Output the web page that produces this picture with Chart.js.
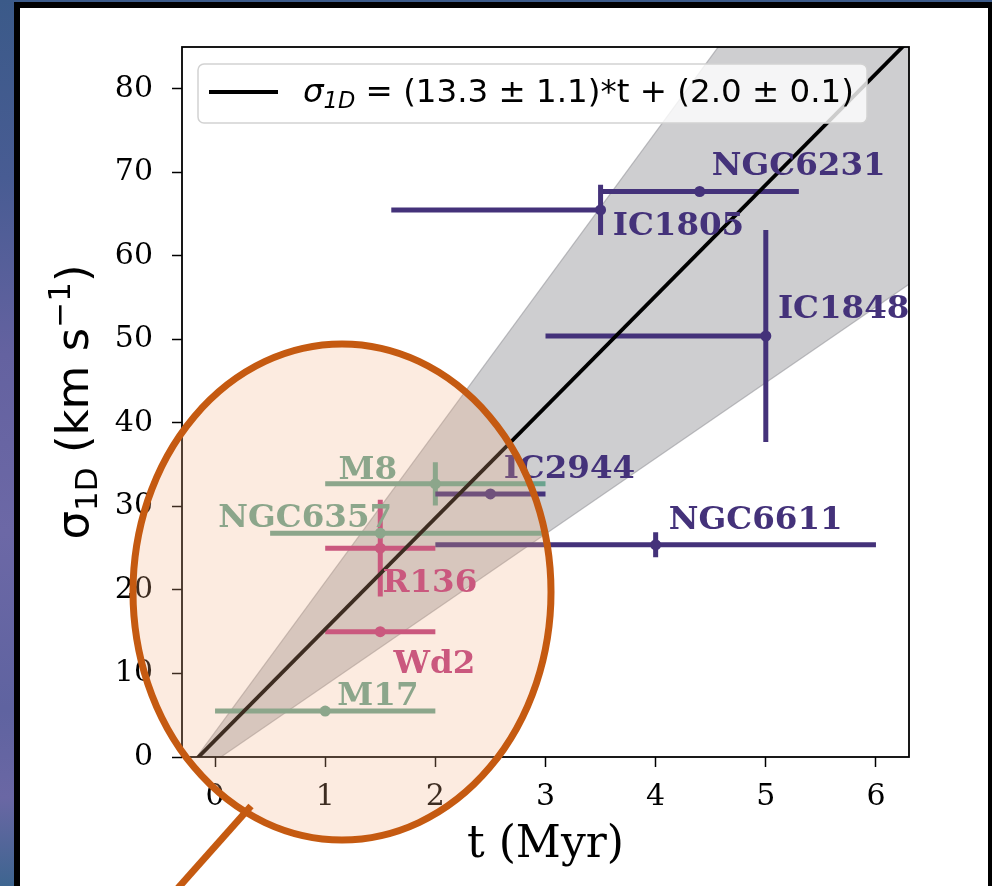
<!DOCTYPE html>
<html>
<head>
<meta charset="utf-8">
<script src="https://cdn.jsdelivr.net/npm/chart.js@4.4.1/dist/chart.umd.min.js"></script>
<style>
  html, body { margin: 0; padding: 0; background: #4a5d95; }
  #wrap { width: 992px; height: 886px; position: relative; }
  canvas { display: block; }
</style>
</head>
<body>
<div id="wrap"><canvas id="chart" width="992" height="886"></canvas></div>
<script>
// ===============================
// Data
// ===============================
const clusterNames = ['NGC6231', 'IC1805', 'IC1848', 'IC2944', 'NGC6611', 'M8', 'NGC6357', 'R136', 'Wd2', 'M17'];
const clusterGroup = [0, 0, 0, 0, 0, 1, 1, 2, 2, 1];
const ageMyr       = [4.4, 3.5, 5.0, 2.5, 4.0, 2.0, 1.5, 1.5, 1.5, 1.0];
const sigma1D      = [67.7, 65.5, 50.4, 31.5, 25.4, 32.7, 26.8, 25.0, 15.0, 5.5];
const ageErrLow    = [0.9, 1.9, 2.0, 0.5, 2.0, 1.0, 1.0, 0.5, 0.5, 1.0];
const ageErrHigh   = [0.9, 0.0, 0.0, 0.5, 2.0, 1.0, 1.5, 0.5, 0.5, 1.0];
const sigmaErr     = [0.0, 3.0, 12.7, 0.0, 1.5, 2.6, 0.0, 5.8, 0.0, 0.0];

// where each cluster name is written (data units, left/baseline anchored)
const labelAge   = [4.51, 3.61, 5.11, 2.62, 4.12, 1.12, 0.03, 1.52, 1.62, 1.11];
const labelSigma = [69.7, 62.5, 52.5, 33.4, 27.3, 33.3, 27.5, 19.8, 10.1, 6.2];

// linear fit and its uncertainty band
const fitSlope = 13.3;
const fitIntercept = 2.0;
const bandAge  = [-0.3, 6.3];
const bandLow  = [-3.2, 56.6];
const bandHigh = [-2.4, 116.1];

const xTicks = [0, 1, 2, 3, 4, 5, 6];
const yTicks = [0, 10, 20, 30, 40, 50, 60, 70, 80];

// ===============================
// Styles
// ===============================
const groupColors = ['#44327a', '#6aa38e', '#bc3b7c'];
const labelFont = 'bold 32.5px "DejaVu Serif"';

// ===============================
// Datasets
// ===============================
const datasets = [
  {
    type: 'line',
    data: bandAge.map((t, i) => ({ x: t, y: bandHigh[i] })),
    borderColor: 'rgba(150,150,155,0.6)',
    borderWidth: 1.2,
    backgroundColor: 'rgba(125,125,132,0.38)',
    fill: '+1',
    pointRadius: 0,
    clip: 0,
    order: 10
  },
  {
    type: 'line',
    data: bandAge.map((t, i) => ({ x: t, y: bandLow[i] })),
    borderColor: 'rgba(150,150,155,0.6)',
    borderWidth: 1.2,
    fill: false,
    pointRadius: 0,
    clip: 0,
    order: 9
  },
  {
    type: 'line',
    data: bandAge.map(t => ({ x: t, y: fitSlope * t + fitIntercept })),
    borderColor: '#000',
    borderWidth: 3.8,
    fill: false,
    pointRadius: 0,
    clip: 0,
    order: 1
  }
];

groupColors.forEach((color, g) => {
  const idx = clusterNames.map((_, i) => i).filter(i => clusterGroup[i] === g);
  datasets.push({
    type: 'scatter',
    data: idx.map(i => ({ x: ageMyr[i], y: sigma1D[i] })),
    clusterIdx: idx,
    backgroundColor: color,
    borderColor: color,
    pointRadius: 5.5,
    pointBorderWidth: 0,
    order: 5
  });
});

// ===============================
// Plugins
// ===============================
const pageBackground = {
  id: 'pageBackground',
  beforeDraw(chart) {
    const ctx = chart.ctx;
    ctx.save();
    const g = ctx.createLinearGradient(0, 0, 0, 886);
    g.addColorStop(0.0, '#3b5a89');
    g.addColorStop(0.2, '#485c93');
    g.addColorStop(0.4, '#6462a0');
    g.addColorStop(0.6, '#6c68a6');
    g.addColorStop(0.8, '#5f63a0');
    g.addColorStop(0.9, '#6a67a4');
    g.addColorStop(1.0, '#3e6590');
    ctx.fillStyle = g;
    ctx.fillRect(0, 0, 992, 886);
    ctx.fillStyle = '#000';
    ctx.fillRect(14, 2, 978, 884);
    ctx.fillStyle = '#fff';
    ctx.fillRect(20, 8, 968, 878);
    ctx.restore();
  }
};

const errorBars = {
  id: 'errorBars',
  beforeDatasetDraw(chart, args) {
    const ds = chart.data.datasets[args.index];
    if (!ds.clusterIdx) return;
    const { ctx, scales: { x, y } } = chart;
    ctx.save();
    ctx.strokeStyle = ds.borderColor;
    ctx.lineWidth = 5;
    ds.clusterIdx.forEach(i => {
      const px = x.getPixelForValue(ageMyr[i]);
      const py = y.getPixelForValue(sigma1D[i]);
      ctx.beginPath();
      ctx.moveTo(x.getPixelForValue(ageMyr[i] - ageErrLow[i]), py);
      ctx.lineTo(x.getPixelForValue(ageMyr[i] + ageErrHigh[i]), py);
      if (sigmaErr[i] > 0) {
        ctx.moveTo(px, y.getPixelForValue(sigma1D[i] - sigmaErr[i]));
        ctx.lineTo(px, y.getPixelForValue(sigma1D[i] + sigmaErr[i]));
      }
      ctx.stroke();
    });
    ctx.restore();
  }
};

const clusterLabels = {
  id: 'clusterLabels',
  afterDatasetsDraw(chart) {
    const { ctx, scales: { x, y } } = chart;
    ctx.save();
    ctx.font = labelFont;
    ctx.textAlign = 'left';
    ctx.textBaseline = 'alphabetic';
    clusterNames.forEach((name, i) => {
      ctx.fillStyle = groupColors[clusterGroup[i]];
      ctx.fillText(name, x.getPixelForValue(labelAge[i]), y.getPixelForValue(labelSigma[i]));
    });
    ctx.restore();
  }
};

// draws a run of [text, font, baselineShift] pieces starting at (x, y)
function drawRuns(ctx, runs, x, y) {
  runs.forEach(([text, font, dy]) => {
    ctx.font = font;
    ctx.fillText(text, x, y + dy);
    x += ctx.measureText(text).width;
  });
}
function runsWidth(ctx, runs) {
  return runs.reduce((w, [text, font]) => { ctx.font = font; return w + ctx.measureText(text).width; }, 0);
}

const frameAndText = {
  id: 'frameAndText',
  afterDraw(chart) {
    const { ctx, chartArea: a } = chart;
    ctx.save();

    // axes spines
    ctx.strokeStyle = '#000';
    ctx.lineWidth = 1.8;
    ctx.strokeRect(a.left, a.top, a.right - a.left, a.bottom - a.top);

    // legend
    ctx.beginPath();
    ctx.roundRect(198, 64, 669, 59, 6);
    ctx.fillStyle = 'rgba(255,255,255,0.8)';
    ctx.fill();
    ctx.strokeStyle = '#d2d2d2';
    ctx.lineWidth = 1.5;
    ctx.stroke();
    ctx.beginPath();
    ctx.moveTo(209, 92);
    ctx.lineTo(278, 92);
    ctx.strokeStyle = '#000';
    ctx.lineWidth = 3.8;
    ctx.stroke();
    ctx.fillStyle = '#000';
    ctx.textBaseline = 'alphabetic';
    ctx.textAlign = 'left';
    drawRuns(ctx, [
      ['σ', 'italic 32.5px "DejaVu Sans"', 0],
      ['1D', 'italic 22.5px "DejaVu Sans"', 6],
      [' = (13.3 ± 1.1)*t + (2.0 ± 0.1)', '32.5px "DejaVu Sans"', 0]
    ], 303, 102);

    // x axis title
    ctx.font = '44px "DejaVu Serif"';
    ctx.textAlign = 'center';
    ctx.fillText('t (Myr)', (a.left + a.right) / 2, 857);

    // y axis title
    const yRuns = [
      ['σ', '45px "DejaVu Sans"', 0],
      ['1D', '31px "DejaVu Sans"', 9],
      [' (km s', '45px "DejaVu Sans"', 0],
      ['−1', '31px "DejaVu Sans"', -18],
      [')', '45px "DejaVu Sans"', 0]
    ];
    ctx.textAlign = 'left';
    ctx.translate(88, (a.top + a.bottom) / 2);
    ctx.rotate(-Math.PI / 2);
    drawRuns(ctx, yRuns, -runsWidth(ctx, yRuns) / 2, 0);
    ctx.setTransform(1, 0, 0, 1, 0, 0);

    // highlight ellipse and pointer
    ctx.beginPath();
    ctx.ellipse(342, 592, 209, 248, 0, 0, Math.PI * 2);
    ctx.fillStyle = 'rgba(244,177,131,0.25)';
    ctx.fill();
    ctx.strokeStyle = '#c55a11';
    ctx.lineWidth = 7;
    ctx.stroke();
    ctx.beginPath();
    ctx.moveTo(251, 806);
    ctx.lineTo(178, 888);
    ctx.stroke();

    ctx.restore();
  }
};

// ===============================
// Chart
// ===============================
const axisTicks = {
  color: '#000',
  font: { family: 'DejaVu Serif', size: 30 },
  maxRotation: 0,
  autoSkip: false
};
const axisGrid = {
  drawOnChartArea: false,
  drawTicks: true,
  tickLength: 10,
  tickWidth: 1.5,
  tickColor: '#000'
};

new Chart(document.getElementById('chart'), {
  type: 'scatter',
  data: { datasets },
  options: {
    responsive: false,
    devicePixelRatio: 1,
    animation: false,
    layout: { padding: { top: 47, right: 83, left: 0, bottom: 0 } },
    plugins: {
      legend: { display: false },
      tooltip: { enabled: false }
    },
    scales: {
      x: {
        type: 'linear',
        min: -0.3,
        max: 6.3,
        afterBuildTicks: s => { s.ticks = xTicks.map(v => ({ value: v })); },
        afterFit: s => { s.height = 129; },
        grid: axisGrid,
        border: { display: false },
        ticks: { ...axisTicks, padding: 12 }
      },
      y: {
        type: 'linear',
        min: 0,
        max: 85,
        afterBuildTicks: s => { s.ticks = yTicks.map(v => ({ value: v })); },
        afterFit: s => { s.width = 182; },
        grid: axisGrid,
        border: { display: false },
        ticks: { ...axisTicks, padding: 19 }
      }
    }
  },
  plugins: [pageBackground, errorBars, clusterLabels, frameAndText]
});
</script>
</body>
</html>
